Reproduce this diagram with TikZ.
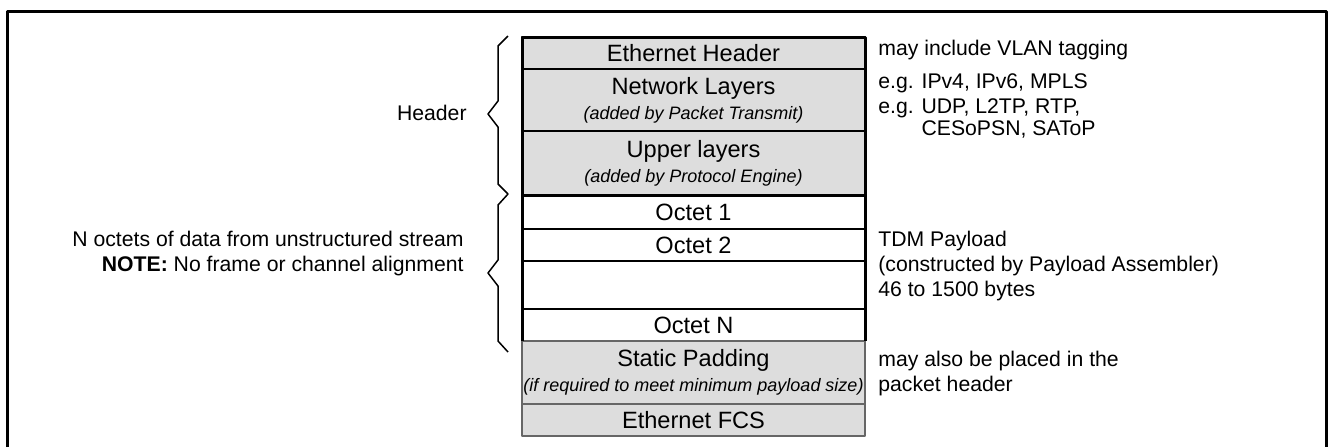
\documentclass[tikz,border=0pt]{standalone}
\usepackage{fontspec}
\setmainfont{Liberation Sans}
\usetikzlibrary{positioning}

\definecolor{layergray}{HTML}{DDDDDD}
\definecolor{padline}{HTML}{666666}
\newcommand{\layernote}[1]{{\fontsize{9}{11}\selectfont\itshape #1}}

\begin{document}
\begin{tikzpicture}[x=0.5pt, y=-0.5pt, line join=round,
    layer/.style={draw=black, line width=0.8pt, fill=layergray, minimum width=171.5pt,
      inner sep=0pt, outer sep=0pt, align=center, font=\fontsize{11.8}{12.5}\selectfont},
    octet/.style={layer, fill=white},
    padlayer/.style={layer, draw=padline, line width=0.6pt},
    side/.style={inner sep=0pt, font=\fontsize{10.6}{12.5}\selectfont},
    brace/.style={line width=0.75pt}]

    \useasboundingbox (0,0) rectangle (1329,447);

    % cadre (ouvert en bas)
    \draw[line width=1.5pt] (7,447) -- (7,11) -- (1326,11) -- (1326,447);

    % Pile des couches
    \node[layer, minimum height=16pt] (eth) at (693.5,53) {Ethernet Header};
    \node[layer, minimum height=31pt, below=0pt of eth] (net)
        {Network Layers\\\layernote{(added by Packet Transmit)}};
    \node[layer, minimum height=32pt, below=0pt of net] (upper)
        {Upper layers\\\layernote{(added by Protocol Engine)}};
    \node[octet, minimum height=17pt, below=0pt of upper] (oct1) {Octet 1};
    \node[octet, minimum height=16pt, below=0pt of oct1] (oct2) {Octet 2};
    \node[octet, minimum height=24pt, below=0pt of oct2] (gap) {};
    \node[octet, minimum height=16pt, below=0pt of gap] (octN) {Octet N};
    \node[padlayer, minimum height=31.5pt, below=0pt of octN] (pad)
        {Static Padding\\\layernote{(if required to meet minimum payload size)}};
    \node[padlayer, minimum height=16pt, below=0pt of pad] (fcs) {Ethernet FCS};

    % Contours épais
    \draw[line width=1.5pt] (eth.north west) rectangle (upper.south east);
    \draw[line width=1.5pt] (upper.south west) -- (octN.south west);
    \draw[line width=1.5pt] (upper.south east) -- (octN.south east);

    % Accolades
    \draw[brace] (508,36) -- (498,46) -- (498,101) -- (488,114) -- (498,127) -- (498,184) -- (508,194);
    \draw[brace] (508,194) -- (498,205) -- (498,260) -- (488,273) -- (498,286) -- (498,341) -- (508,352);

    % Textes a gauche
    \node[side, anchor=east] (hdrlabel) at (467,113) {Header};
    \node[side, anchor=east, align=right] (octlabel) at (464,254)
        {N octets of data from unstructured stream\\\textbf{NOTE:} No frame or channel alignment};

    % Textes a droite
    \node[side, anchor=west] (vlan) at (878,50) {may include VLAN tagging};
    \node[side, anchor=west] (ipnote) at (878,83) {e.g. IPv4, IPv6, MPLS};
    \node[side, anchor=west, align=left, font=\fontsize{10.6}{11}\selectfont] (udpnote) at (878,119)
        {e.g. UDP, L2TP, RTP,\\\phantom{e.g. }CESoPSN, SAToP};
    \node[side, anchor=west, align=left] (tdmnote) at (878,266)
        {TDM Payload\\(constructed by Payload Assembler)\\46 to 1500 bytes};
    \node[side, anchor=west, align=left] (padnote) at (878,374)
        {may also be placed in the\\packet header};
\end{tikzpicture}
\end{document}
